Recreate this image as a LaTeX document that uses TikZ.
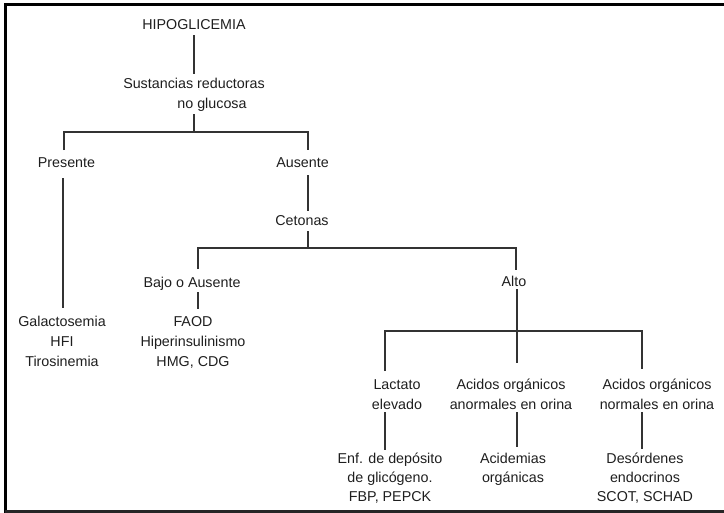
\documentclass[tikz,border=0pt]{standalone}
\usepackage{fontspec}
\setmainfont{Liberation Sans}
\definecolor{ink}{HTML}{1E1E1E}
\definecolor{wire}{HTML}{333333}
\tikzset{
  lbl/.style={font=\fontsize{14.3}{20}\selectfont, text=ink, align=center,
    inner sep=0pt, anchor=north},
  lbltight/.style={lbl, font=\fontsize{14.3}{19}\selectfont},
  conn/.style={draw=wire, line width=1.9pt},
}
\begin{document}
\begin{tikzpicture}[x=1pt,y=-1pt]
\useasboundingbox (0,0) rectangle (724,513);
% frame
\draw[line width=3pt, black] (724,4.3) -- (5,4.3) -- (5,513);
\draw[line width=2.4pt, black!85] (5,511.5) -- (724,511.5);

% labels (a strut on the first and last line fixes each box's height and depth)
\node[lbl] (hipo)  at (194,15)  {\strut HIPOGLICEMIA\strut};
\node[lbl] (sust)  at (194,74.1)  {\strut Sustancias reductoras\\\hspace*{36pt}no glucosa\strut};
\node[lbl] (pres)  at (66.5,153.1) {\strut Presente\strut};
\node[lbl] (aus)   at (302.5,153.1) {\strut Ausente\strut};
\node[lbl] (cet)   at (302,211.1) {\strut Cetonas\strut};
\node[lbl] (bajo)  at (192,273.1) {\strut Bajo o Ausente\strut};
\node[lbl] (alto)  at (514,272.1) {\strut Alto\strut};
\node[lbl] (galac) at (62,312.1)  {\strut Galactosemia\\HFI\\Tirosinemia\strut};
\node[lbl] (faod)  at (193,312.1) {\strut FAOD\\Hiperinsulinismo\\HMG, CDG\strut};
\node[lbl] (lact)  at (397,375.1) {\strut Lactato\\elevado\strut};
\node[lbl] (anorm) at (511,375.1) {\strut Acidos orgánicos\\anormales en orina\strut};
\node[lbl] (norm)  at (657,375.1) {\strut Acidos orgánicos\\normales en orina\strut};
\node[lbltight] (enf)  at (390,449.8) {\strut Enf. de depósito\\de glicógeno.\\FBP, PEPCK\strut};
\node[lbltight] (acid) at (513,449.8) {\strut Acidemias\\orgánicas\strut};
\node[lbltight] (deso) at (645,449.8) {\strut Desórdenes\\endocrinos\\SCOT, SCHAD\strut};

% branch points
\coordinate (b1) at (194,132);
\coordinate (b2) at (308,248);
\coordinate (b3) at (517,331);

% connectors
\draw[conn] (hipo.south) -- (sust.north);
\draw[conn] (sust.south) -- (b1);
\draw[conn, shorten <=3pt, shorten >=3pt] ([xshift=-2.5pt]pres.north) |- (b1) -| ([xshift=5.5pt]aus.north);
\draw[conn, shorten <=5pt, shorten >=4pt] ([xshift=-3.5pt]pres.south) -- ([xshift=-3.5pt]pres.south |- galac.north);
\draw[conn, shorten <=2pt] ([xshift=5.5pt]aus.south) -- ([xshift=5.5pt]aus.south |- cet.north);
\draw[conn] ([xshift=6pt]cet.south) -- (b2);
\draw[conn, shorten <=4pt, shorten >=2pt] ([xshift=6pt]bajo.north) |- (b2) -| ([xshift=2pt]alto.north);
\draw[conn, shorten <=-1pt, shorten >=3pt] ([xshift=6pt]bajo.south) -- ([xshift=6pt]bajo.south |- faod.north);
\draw[conn, shorten <=-3pt, shorten >=12pt] ([xshift=3pt]alto.south) -- ([xshift=3pt]alto.south |- anorm.north);
\draw[conn, shorten <=4pt, shorten >=6pt] ([xshift=-12pt]lact.north) |- (b3) -| ([xshift=-15pt]norm.north);
\draw[conn, shorten <=-3pt] ([xshift=-12pt]lact.south) -- ([xshift=-12pt]lact.south |- enf.north);
\draw[conn, shorten <=-3pt, shorten >=3pt] ([xshift=6pt]anorm.south) -- ([xshift=6pt]anorm.south |- acid.north);
\draw[conn, shorten <=-3pt, shorten >=1pt] ([xshift=-15pt]norm.south) -- ([xshift=-15pt]norm.south |- deso.north);
\end{tikzpicture}
\end{document}
